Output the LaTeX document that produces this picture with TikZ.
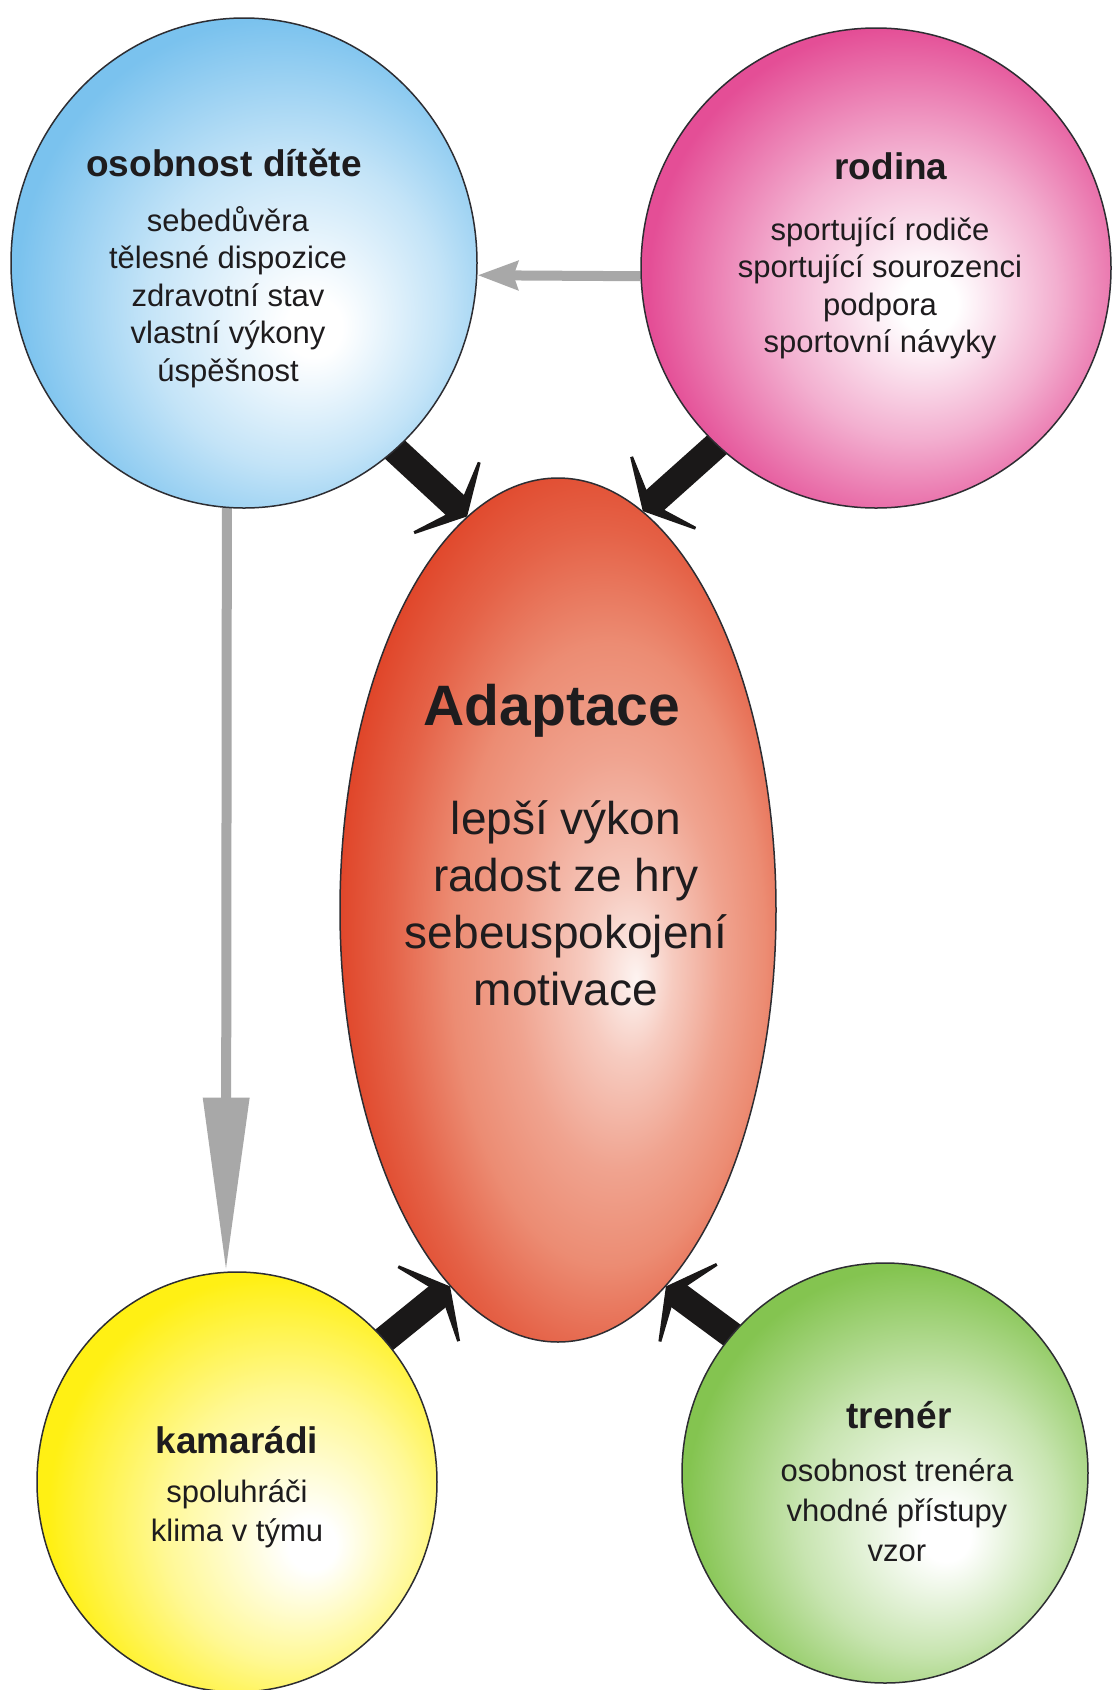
\documentclass[tikz,border=0pt]{standalone}
\usepackage{fontspec}
\setmainfont{Liberation Sans}
\usepackage{xcolor}
\usepackage{tikz}
\usetikzlibrary{positioning, arrows.meta, shapes, backgrounds}

\definecolor{kid_blue}{RGB}{122,194,238}
\definecolor{family_pink}{RGB}{228,78,150}
\definecolor{adapt_red}{RGB}{224,70,42}
\definecolor{adapt_salmon}{RGB}{236,140,115}
\definecolor{mates_yellow}{RGB}{255,240,20}
\definecolor{coach_green}{RGB}{132,196,80}
\definecolor{link_gray}{RGB}{168,168,168}
\definecolor{push_black}{RGB}{26,24,24}
\definecolor{edge_dark}{RGB}{45,45,50}
\definecolor{text_dark}{RGB}{30,28,30}

\pgfdeclareradialshading{kid_shade}{\pgfpoint{8bp}{-7bp}}{color(0bp)=(white); color(3bp)=(white); color(16bp)=(kid_blue!45!white); color(28bp)=(kid_blue); color(50bp)=(kid_blue)}
\pgfdeclareradialshading{family_shade}{\pgfpoint{6bp}{-4bp}}{color(0bp)=(white); color(3bp)=(white); color(15bp)=(family_pink!45!white); color(27bp)=(family_pink); color(50bp)=(family_pink)}
\pgfdeclareradialshading{adapt_shade}{\pgfpoint{9bp}{-4bp}}{color(0bp)=(white!90!adapt_salmon); color(5bp)=(adapt_salmon!45!white); color(12bp)=(adapt_salmon!80!white); color(18bp)=(adapt_salmon); color(24bp)=(adapt_salmon!40!adapt_red); color(29bp)=(adapt_red); color(50bp)=(adapt_red)}
\pgfdeclareradialshading{mates_shade}{\pgfpoint{10bp}{-8bp}}{color(0bp)=(white); color(3bp)=(white); color(16bp)=(mates_yellow!45!white); color(28bp)=(mates_yellow); color(50bp)=(mates_yellow)}
\pgfdeclareradialshading{coach_shade}{\pgfpoint{8bp}{-8bp}}{color(0bp)=(white); color(3bp)=(white); color(16bp)=(coach_green!45!white); color(28bp)=(coach_green); color(50bp)=(coach_green)}

\begin{document}
\begin{tikzpicture}[
        x=1pt, y=-1pt,
        ball_style/.style={ellipse, draw=edge_dark, line width=1.5pt, inner sep=0pt, shade},
        title_style/.style={text=text_dark, font=\fontsize{37}{44}\selectfont\bfseries, anchor=base, inner sep=0pt},
        list_style/.style={text=text_dark, font=\fontsize{31}{37.5}\selectfont, align=center, anchor=north, inner sep=0pt},
        push_style/.style={draw=push_black, line width=27pt, shorten <=-25pt, -{Stealth[length=36pt, width=132pt, inset=24pt]}},
        link_style/.style={draw=link_gray, line width=10pt}
    ]
        % Canvas
        \useasboundingbox (0,0) rectangle (1113,1690);

        % Coordinates
        \coordinate (k) at (244,263);
        \coordinate (f) at (876,268);
        \coordinate (a) at (558,910);
        \coordinate (m) at (237,1482);
        \coordinate (c) at (885,1473);

        % Bubbles
        \node[ball_style, shading=kid_shade, minimum width=466pt, minimum height=490pt] (kid) at (k) {};
        \node[ball_style, shading=family_shade, minimum width=470pt, minimum height=480pt] (family) at (f) {};
        \node[ball_style, shading=adapt_shade, minimum width=436pt, minimum height=864pt] (adapt) at (a) {};
        \node[ball_style, shading=mates_shade, minimum width=400pt, minimum height=420pt] (mates) at (m) {};
        \node[ball_style, shading=coach_shade, minimum width=406pt, minimum height=420pt] (coach) at (c) {};

        % Texts
        \node[title_style] (kid_title) at (224,176) {osobnost dítěte};
        \node[list_style] (kid_list) at (228,206) {sebedůvěra\\tělesné dispozice\\zdravotní stav\\vlastní výkony\\úspěšnost};
        \node[title_style] (family_title) at (891,179) {rodina};
        \node[list_style] (family_list) at (880,217) {sportující rodiče\\sportující sourozenci\\podpora\\sportovní návyky};
        \node[title_style, font=\fontsize{57}{68}\selectfont\bfseries] (adapt_title) at (552,725) {Adaptace};
        \node[list_style, font=\fontsize{46}{57}\selectfont] (adapt_list) at (566,800) {lepší výkon\\radost ze hry\\sebeuspokojení\\motivace};
        \node[title_style] (mates_title) at (237,1453) {kamarádi};
        \node[list_style, font=\fontsize{31}{39}\selectfont] (mates_list) at (237,1479) {spoluhráči\\klima v týmu};
        \node[title_style] (coach_title) at (899,1428) {trenér};
        \node[list_style, font=\fontsize{31}{40}\selectfont] (coach_list) at (897,1458) {osobnost trenéra\\vhodné přístupy\\vzor};

        % Connectors
        \begin{scope}[on background layer]
            \fill[white] (0,0) rectangle (1113,1690);
            \draw[push_style] (kid.-51) -- (adapt.103);
            \draw[push_style] (family.-132) -- (adapt.78);
            \draw[push_style] (mates.44) -- (adapt.-106);
            \draw[push_style] (coach.138) -- (adapt.-74);
            \draw[link_style, -{Stealth[length=40pt, width=28pt, inset=4pt]}] (family.182) -- (kid.-3);
            \draw[link_style, -{Triangle[length=174pt, width=44pt]}] (kid.-94) -- (mates.93);
        \end{scope}
    \end{tikzpicture}
\end{document}
